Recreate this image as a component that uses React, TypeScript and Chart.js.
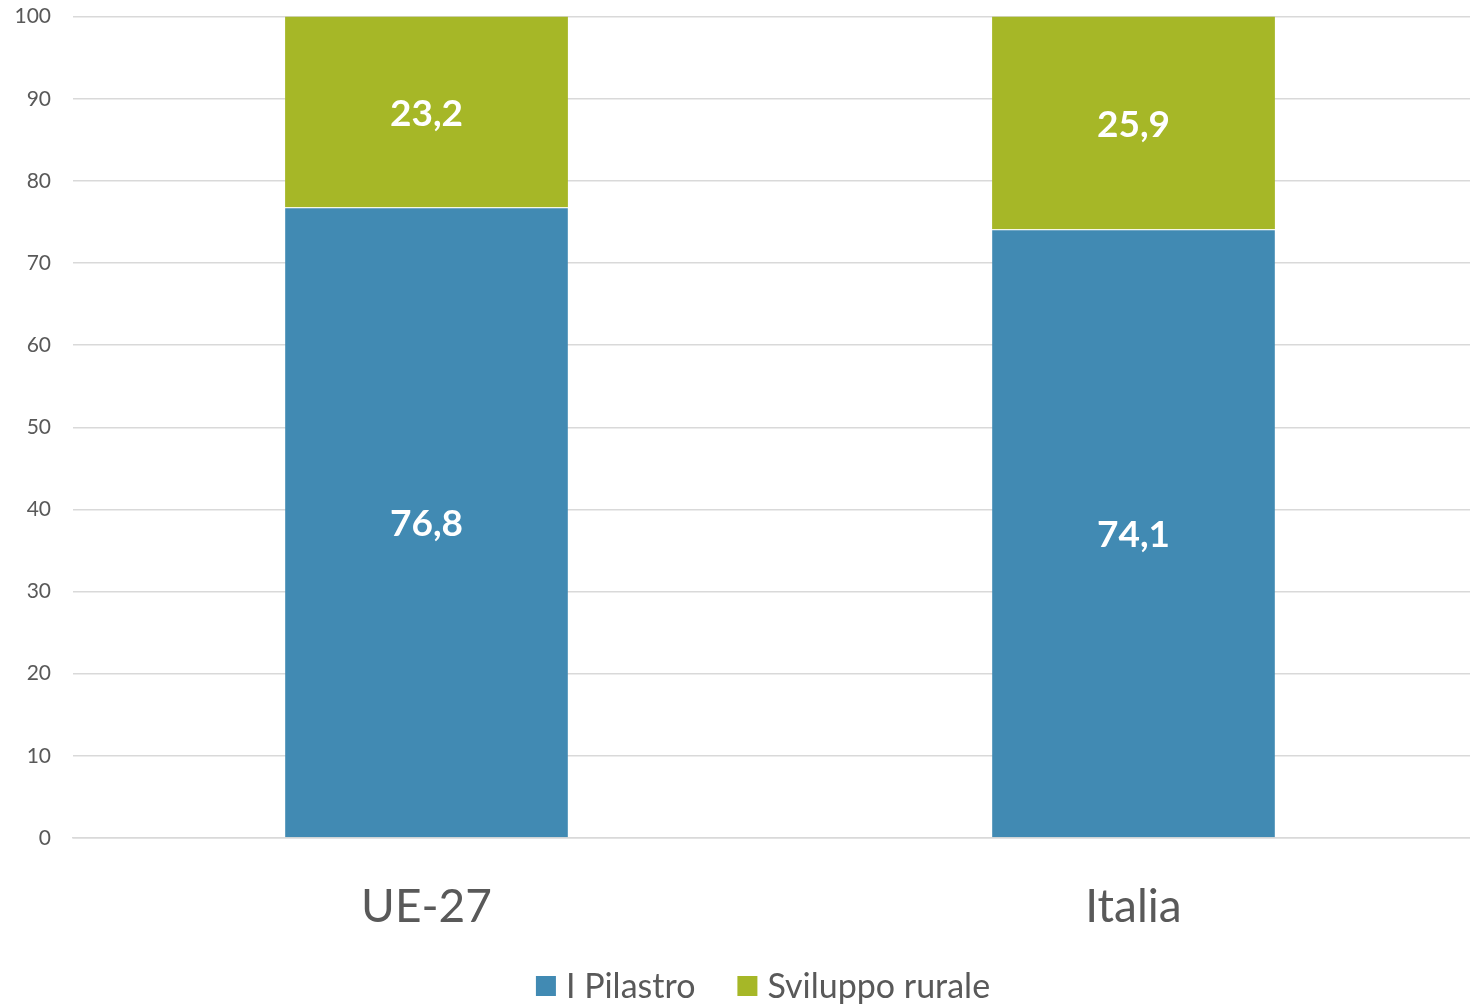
import React, { useEffect, useRef } from "react";
import { Chart, registerables } from "chart.js";

Chart.register(...registerables);

const categories = ["UE-27", "Italia"];
const pilastroValues = [76.8, 74.1];
const sviluppoValues = [23.2, 25.9];
const seriesNames = ["I Pilastro", "Sviluppo rurale"];
const seriesColors = ["#418AB3", "#A6B727"];
const yTicks = [0, 10, 20, 30, 40, 50, 60, 70, 80, 90, 100];

const FONT = "Lato, 'Open Sans', sans-serif";
const SHIFT_Y = 18;
const CANVAS_W = 1487;
const CANVAS_H = 1006 + SHIFT_Y;

const valueLabels = {
  id: "valueLabels",
  afterDatasetsDraw(chart: any) {
    const ctx = chart.ctx;
    ctx.save();
    ctx.fillStyle = "#ffffff";
    ctx.font = `bold 37px ${FONT}`;
    ctx.textAlign = "center";
    ctx.textBaseline = "middle";
    chart.data.datasets.forEach((ds: any, di: number) => {
      const meta = chart.getDatasetMeta(di);
      meta.data.forEach((bar: any, i: number) => {
        const v = ds.data[i];
        const p = bar.getProps(["x", "y", "base"], true);
        const cy = (p.y + p.base) / 2;
        ctx.fillText(String(v).replace(".", ","), p.x, cy + 2);
      });
    });
    ctx.restore();
  },
};

const customLegend = {
  id: "customLegend",
  afterDraw(chart: any) {
    const ctx = chart.ctx;
    ctx.save();
    ctx.font = `34px ${FONT}`;
    ctx.textBaseline = "middle";
    ctx.textAlign = "left";
    const box = 20;
    const gapBoxText = 10;
    const gapItems = 42;
    const widths = seriesNames.map((n) => box + gapBoxText + ctx.measureText(n).width);
    const total = widths.reduce((a, b) => a + b, 0) + gapItems * (seriesNames.length - 1);
    let x = 763 - total / 2;
    const cy = 986 + SHIFT_Y;
    seriesNames.forEach((n, i) => {
      ctx.fillStyle = seriesColors[i];
      ctx.fillRect(x, cy - box / 2, box, box);
      ctx.fillStyle = "#595959";
      ctx.fillText(n, x + box + gapBoxText, cy + 1);
      x += widths[i] + gapItems;
    });
    ctx.restore();
  },
};

export default function App() {
  const ref = useRef<HTMLCanvasElement | null>(null);
  useEffect(() => {
    if (!ref.current) return;
    const chart = new Chart(ref.current, {
      type: "bar",
      data: {
        labels: categories,
        datasets: [
          {
            label: seriesNames[0],
            data: pilastroValues,
            backgroundColor: seriesColors[0],
            borderColor: "#ffffff",
            borderWidth: { top: 1, left: 0, right: 0, bottom: 0 },
            borderSkipped: false,
            categoryPercentage: 1,
            barPercentage: 0.4,
          },
          {
            label: seriesNames[1],
            data: sviluppoValues,
            backgroundColor: seriesColors[1],
            borderWidth: 0,
            categoryPercentage: 1,
            barPercentage: 0.4,
          },
        ],
      },
      options: {
        animation: false,
        responsive: false,
        layout: { padding: { top: 0, right: 0, left: 0, bottom: 42 } },
        plugins: {
          legend: { display: false },
          tooltip: { enabled: false },
        },
        scales: {
          x: {
            stacked: true,
            grid: { display: false, drawTicks: false },
            border: { display: true, color: "#D9D9D9", width: 1.5 },
            ticks: {
              font: { family: FONT, size: 46 },
              color: "#595959",
              padding: 42,
            },
            afterFit(scale: any) {
              scale.height = 126;
            },
          },
          y: {
            stacked: true,
            min: 0,
            max: 100,
            afterBuildTicks(scale: any) {
              scale.ticks = yTicks.map((v) => ({ value: v }));
            },
            grid: { color: "#D9D9D9", lineWidth: 1.5, drawTicks: false },
            border: { display: false },
            ticks: {
              font: { family: FONT, size: 21 },
              color: "#595959",
              padding: 22,
            },
            afterFit(scale: any) {
              scale.width = 73;
            },
          },
        },
      },
      plugins: [valueLabels, customLegend],
    });
    return () => chart.destroy();
  }, []);
  return (
    <div style={{ position: "absolute", left: 0, top: 0, width: 1470, height: 1006, background: "#fff", overflow: "hidden" }}>
      <canvas
        ref={ref}
        width={CANVAS_W}
        height={CANVAS_H}
        style={{ display: "block", position: "absolute", left: 0, top: -SHIFT_Y }}
      />
    </div>
  );
}
